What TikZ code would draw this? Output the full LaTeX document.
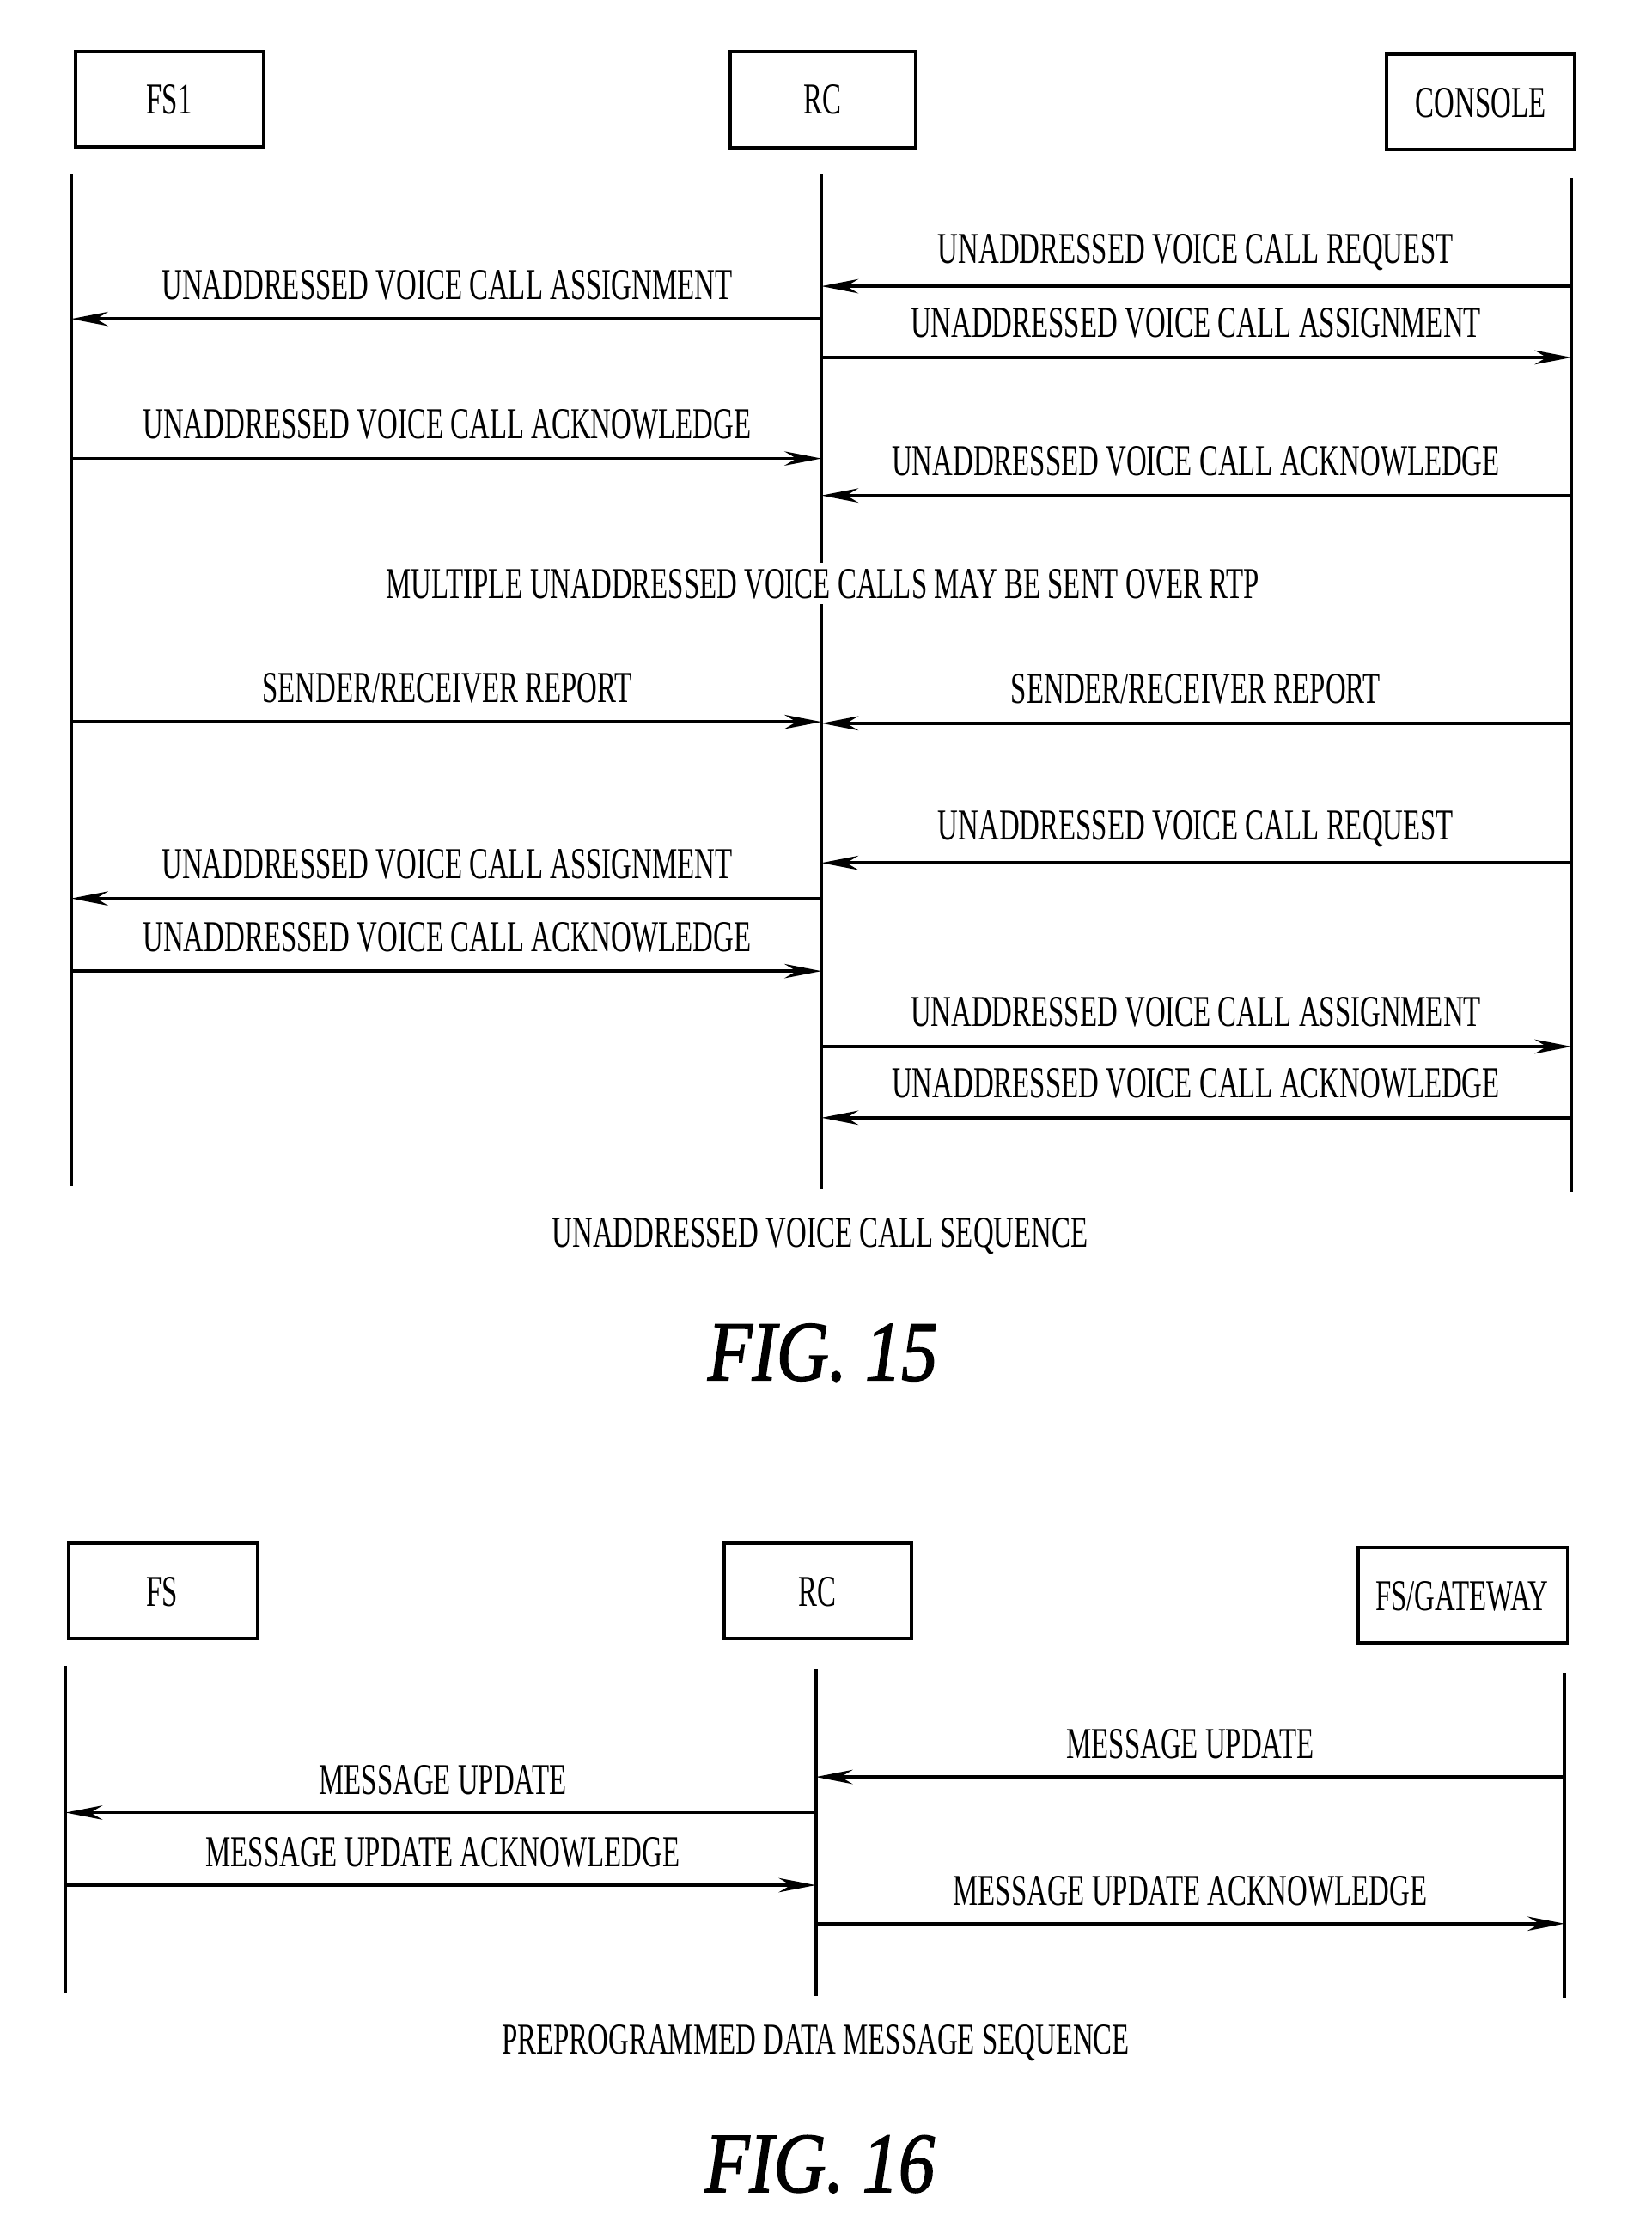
\documentclass[tikz,border=0pt]{standalone}
\usepackage{fontspec}
\setmainfont{Liberation Serif}
\newfontfamily\cond[FakeStretch=0.64]{Liberation Serif}
\newfontfamily\figf[FakeStretch=0.85,FakeBold=1.5]{Liberation Serif}
\usetikzlibrary{arrows.meta}
\begin{document}
\begin{tikzpicture}[x=0.5pt,y=-0.5pt,
 box/.style={draw,line width=1.2pt,inner sep=0pt},
 life/.style={line width=1.2pt},
 msg/.style={line width=1.1pt,-{Stealth[length=13pt,width=5pt]}},
 lab/.style={font=\cond\fontsize{15.5}{16}\selectfont,inner sep=0pt},
 fig/.style={font=\figf\fontsize{30}{30}\selectfont\itshape,inner sep=0pt}]
\useasboundingbox (0,0) rectangle (1160,1569);
% FIG 15
\draw[box] (53,36) rectangle (185,103); \node[lab] (b1) at (119,70) {FS1};
\draw[box] (513,36) rectangle (643,104); \node[lab] (b2) at (578,70) {RC};
\draw[box] (974,38) rectangle (1106,105); \node[lab] (b3) at (1040,72) {CONSOLE};
\coordinate (a1) at (50,122); \coordinate (a2) at (50,833);
\coordinate (r1) at (577,122); \coordinate (r2) at (577,835);
\coordinate (c1) at (1104,125); \coordinate (c2) at (1104,837);
\draw[life] (a1)--(a2); \draw[life] (r1)--(r2); \draw[life] (c1)--(c2);
\foreach \y/\d/\t in {201/L/{UNADDRESSED VOICE CALL REQUEST},251/R/{UNADDRESSED VOICE CALL ASSIGNMENT},348/L/{UNADDRESSED VOICE CALL ACKNOWLEDGE},508/L/{SENDER/RECEIVER REPORT},606/L/{UNADDRESSED VOICE CALL REQUEST},735/R/{UNADDRESSED VOICE CALL ASSIGNMENT},785/L/{UNADDRESSED VOICE CALL ACKNOWLEDGE}}{
 \coordinate (p) at (577,\y); \coordinate (q) at (1104,\y);
 \if L\d \draw[msg] (q)--(p); \else \draw[msg] (p)--(q); \fi
 \node[lab] at (840,\y-24) {\t};}
\foreach \y/\d/\t in {224/L/{UNADDRESSED VOICE CALL ASSIGNMENT},322/R/{UNADDRESSED VOICE CALL ACKNOWLEDGE},507/R/{SENDER/RECEIVER REPORT},631/L/{UNADDRESSED VOICE CALL ASSIGNMENT},682/R/{UNADDRESSED VOICE CALL ACKNOWLEDGE}}{
 \coordinate (p) at (50,\y); \coordinate (q) at (577,\y);
 \if L\d \draw[msg] (q)--(p); \else \draw[msg] (p)--(q); \fi
 \node[lab] at (314,\y-24) {\t};}
\node[lab,fill=white,inner ysep=2pt] (m) at (578,410) {MULTIPLE UNADDRESSED VOICE CALLS MAY BE SENT OVER RTP};
\node[lab] (cap1) at (576,868) {UNADDRESSED VOICE CALL SEQUENCE};
\node[fig] (f15) at (578,950) {FIG. 15};
% FIG 16
\draw[box] (48,1084) rectangle (181,1151); \node[lab] at (114,1118) {FS};
\draw[box] (509,1084) rectangle (640,1151); \node[lab] at (574,1118) {RC};
\draw[box] (954,1087) rectangle (1101,1154); \node[lab] at (1027,1121) {FS/GATEWAY};
\draw[life] (46,1170)--(46,1400); \draw[life] (573,1172)--(573,1402); \draw[life] (1099,1175)--(1099,1403);
\draw[msg] (1099,1248)--(573,1248); \node[lab] at (836,1225) {MESSAGE UPDATE};
\draw[msg] (573,1273)--(46,1273); \node[lab] at (311,1250) {MESSAGE UPDATE};
\draw[msg] (46,1324)--(573,1324); \node[lab] at (311,1301) {MESSAGE UPDATE ACKNOWLEDGE};
\draw[msg] (573,1351)--(1099,1351); \node[lab] at (836,1328) {MESSAGE UPDATE ACKNOWLEDGE};
\node[lab] at (573,1435) {PREPROGRAMMED DATA MESSAGE SEQUENCE};
\node[fig] at (576,1520) {FIG. 16};
\end{tikzpicture}
\end{document}
